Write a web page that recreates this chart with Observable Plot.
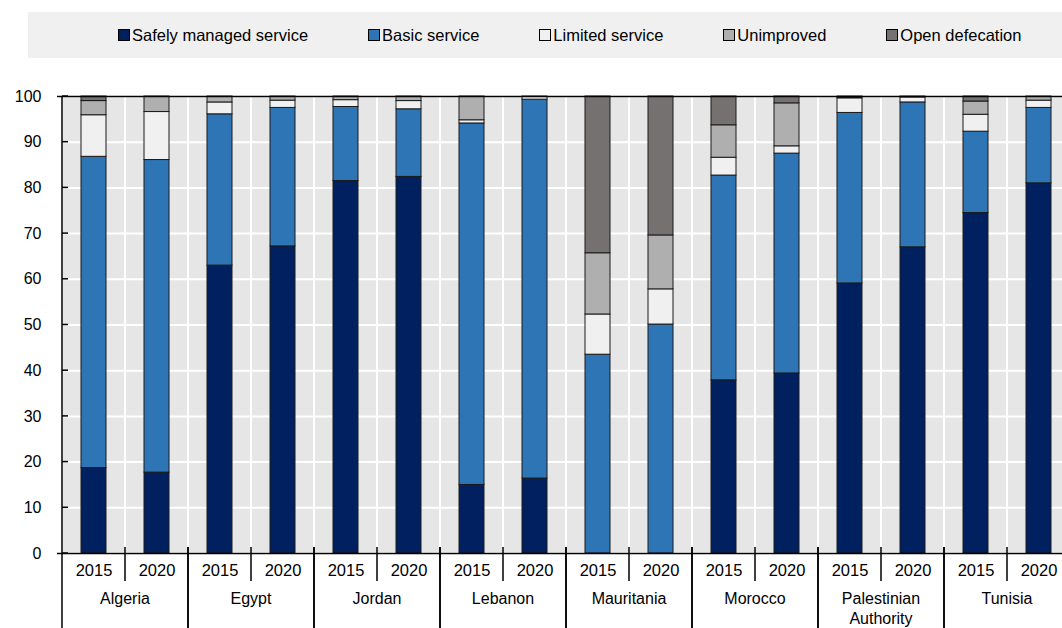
<!DOCTYPE html>
<html><head><meta charset="utf-8">
<script src="https://cdn.jsdelivr.net/npm/d3@7"></script>
<script src="https://cdn.jsdelivr.net/npm/@observablehq/plot@0.6"></script>
<style>
body{margin:0;overflow:hidden;background:#fff;font-family:"Liberation Sans",Arial,sans-serif;}
#legend{margin:12px 0 0 28px;height:46px;background:#f0f0f0;width:1100px;display:flex;align-items:center;padding-left:90px;gap:60px;box-sizing:border-box;font-size:16.5px;color:#000;}
.item{display:flex;align-items:center;white-space:nowrap}
.sw{width:10px;height:10px;border:1px solid #000;margin-right:2px;flex:none}
#chart{width:1080px}
#chart svg{display:block;overflow:visible;max-width:none !important}
</style></head><body>
<div id="legend"></div><div id="chart"></div>
<script>
const countries = ["Algeria","Egypt","Jordan","Lebanon","Mauritania","Morocco","Palestinian Authority","Tunisia"];
const years = ["2015","2020"];
const seriesNames = ["Safely managed service","Basic service","Limited service","Unimproved","Open defecation"];
const seriesColors = ["#002060","#2e75b6","#f0f0f0","#afafaf","#757171"];
// values in country × year order (2015, 2020 for each country)
const safely     = [18.7,17.7, 63.0,67.2, 81.5,82.4, 15.0,16.4,  0.0, 0.0, 37.9,39.4, 59.1,67.0, 74.5,81.0];
const basic      = [68.1,68.4, 33.1,30.3, 16.2,14.8, 79.1,82.9, 43.5,50.1, 44.8,48.1, 37.3,31.7, 17.8,16.5];
const limited    = [ 9.1,10.5,  2.6, 1.6,  1.5, 1.8,  0.7, 0.7,  8.8, 7.7,  3.9, 1.6,  3.2, 1.1,  3.7, 1.6];
const unimproved = [ 3.1, 3.4,  1.3, 0.9,  0.8, 1.0,  5.2, 0.0, 13.4,11.8,  7.1, 9.4,  0.2, 0.2,  2.9, 0.9];
const openDef    = [ 1.0, 0.0,  0.0, 0.0,  0.0, 0.0,  0.0, 0.0, 34.3,30.4,  6.3, 1.5,  0.2, 0.0,  1.1, 0.0];
const yTicks = [0,10,20,30,40,50,60,70,80,90,100];

const seriesValues = [safely, basic, limited, unimproved, openDef];
const keys = countries.flatMap(c => years.map(y => c + "|" + y));
const rows = [];
seriesNames.forEach((s, si) => {
  keys.forEach((k, i) => rows.push({key: k, series: s, value: seriesValues[si][i]}));
});

// legend
const legend = d3.select("#legend");
seriesNames.forEach((s, i) => {
  const it = legend.append("div").attr("class", "item");
  it.append("div").attr("class", "sw").style("background", seriesColors[i]);
  it.append("span").text(s);
});

function axisMarks(index, scales, values, dimensions) {
  const x = scales.x, y = scales.y;
  const step = x(keys[1]) - x(keys[0]);
  const y0 = y(0), yTop = y(100), x0 = x(keys[0]);
  const g = d3.create("svg:g").attr("stroke", "#000").attr("stroke-width", 1.5);
  g.append("line").attr("x1", x0).attr("x2", x0).attr("y1", yTop).attr("y2", dimensions.height);
  yTicks.forEach(t => g.append("line").attr("x1", x0).attr("x2", x0 + 6).attr("y1", y(t)).attr("y2", y(t)));
  keys.forEach((k, i) => {
    const xb = x(k);
    if (i > 0) {
      if (i % 2 === 0) g.append("line").attr("x1", xb).attr("x2", xb).attr("y1", y0 - 6).attr("y2", dimensions.height);
      else g.append("line").attr("x1", xb).attr("x2", xb).attr("y1", y0 - 6).attr("y2", y0 + 28);
    }
    if (i % 2 === 1) g.append("line").attr("x1", xb + step).attr("x2", xb + step).attr("y1", y0 - 6).attr("y2", dimensions.height);
  });
  const t = g.append("g").attr("stroke", "none").attr("fill", "#000").attr("text-anchor", "middle").attr("font-size", 16);
  countries.forEach((c, ci) => {
    const cx = x(keys[ci * 2]) + step;
    const txt = t.append("text").attr("x", cx).attr("y", y0 + 45);
    const parts = c.split(" ");
    parts.forEach((p, pi) => txt.append("tspan").attr("x", cx).attr("dy", pi === 0 ? "0.35em" : 20).text(p));
  });
  return g.node();
}

const chart = Plot.plot({
  width: 1080, height: 570,
  marginTop: 38, marginBottom: 75, marginLeft: 57, marginRight: 5,
  style: {fontFamily: "Liberation Sans, Arial, sans-serif", fontSize: "16px", color: "#000", background: "transparent", overflow: "visible", maxWidth: "none"},
  x: {domain: keys, padding: 0, axis: null},
  y: {domain: [0, 100], axis: null},
  color: {domain: seriesNames, range: seriesColors},
  marks: [
    Plot.barY(keys, {x: d => d, y1: 0, y2: 100, fill: "#e6e6e6", stroke: "#fff", strokeWidth: 2, insetLeft: 0, insetRight: 0}),
    Plot.ruleY(yTicks, {y: d => d, stroke: "#fff", strokeWidth: 2}),
    Plot.barY(rows.filter(d => d.value > 0), Plot.stackY({order: seriesNames}, {x: "key", y: "value", z: "series", fill: "series", stroke: "#1a1a1a", strokeWidth: 1, insetLeft: 19, insetRight: 19})),
    Plot.ruleY([0, 100], {y: d => d, stroke: "#000", strokeWidth: 1.5}),
    Plot.text(yTicks, {y: d => d, frameAnchor: "left", dx: -16, textAnchor: "end", text: d => String(d), fontSize: 16}),
    Plot.text(keys, {x: d => d, y: 0, dy: 17, text: d => d.split("|")[1], fontSize: 16.5}),
    axisMarks
  ]
});
document.getElementById("chart").appendChild(chart);
</script>
</body></html>
